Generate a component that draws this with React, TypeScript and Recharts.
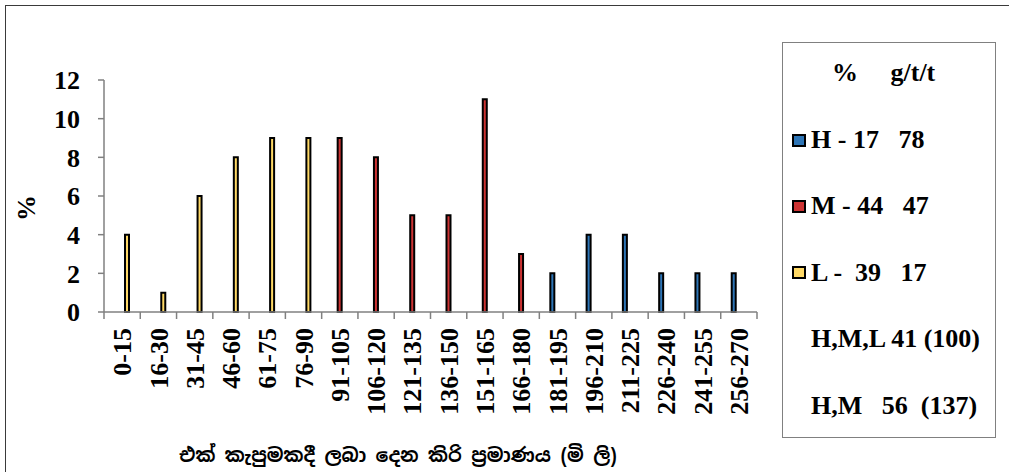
import React from "react";
import { BarChart, Bar, XAxis, YAxis, Label } from "recharts";

const categories = [
  "0-15", "16-30", "31-45", "46-60", "61-75", "76-90",
  "91-105", "106-120", "121-135", "136-150", "151-165", "166-180",
  "181-195", "196-210", "211-225", "226-240", "241-255", "256-270",
];

const hValues = [null, null, null, null, null, null, null, null, null, null, null, null, 2, 4, 4, 2, 2, 2];
const mValues = [null, null, null, null, null, null, 9, 8, 5, 5, 11, 3, null, null, null, null, null, null];
const lValues = [4, 1, 6, 8, 9, 9, null, null, null, null, null, null, null, null, null, null, null, null];

const seriesKeys = ["H", "M", "L"];
const seriesNames = ["H - 17   78", "M - 44   47", "L -  39   17"];
const seriesColors = ["#2E75B6", "#CC3333", "#FFD966"];
const legendHeader = "%     g/t/t";
const legendNotes = ["H,M,L 41 (100)", "H,M   56  (137)"];

const yTicks = [0, 2, 4, 6, 8, 10, 12];
const xTitle = "එක් කැපුමකදී ලබා දෙන කිරි ප්‍රමාණය (මි ලි)";
const yTitle = "%";

const data = categories.map((range, i) => ({
  range,
  H: hValues[i],
  M: mValues[i],
  L: lValues[i],
}));

const FONT = "'Liberation Serif', 'Times New Roman', serif";
const AXIS_GRAY = "#808080";

function XTick(props: any) {
  const { x, y, payload, index } = props;
  const half = payload.offset || 0;
  return (
    <g>
      <line x1={x - half} y1={y} x2={x - half} y2={y + 7} stroke={AXIS_GRAY} strokeWidth={1.5} />
      {index === categories.length - 1 && (
        <line x1={x + half} y1={y} x2={x + half} y2={y + 7} stroke={AXIS_GRAY} strokeWidth={1.5} />
      )}
      <text
        transform={`translate(${x},${y + 16}) rotate(-90)`}
        textAnchor="end"
        dy="0.35em"
        fontFamily={FONT}
        fontWeight="bold"
        fontSize={26}
        fill="#000"
      >
        {payload.value}
      </text>
    </g>
  );
}

function LegendBox() {
  const rowTop = (i: number) => 84 + i * 66.4;
  return (
    <div
      style={{
        position: "absolute", left: 782, top: 42, width: 214, height: 396,
        border: "1.5px solid #808080", boxSizing: "border-box", background: "#fff",
        fontFamily: FONT, fontWeight: "bold", fontSize: 26, lineHeight: "26px",
        color: "#000", whiteSpace: "pre",
      }}
    >
      <div style={{ position: "absolute", left: 49, top: 17 }}>{legendHeader}</div>
      {seriesNames.map((name, i) => (
        <React.Fragment key={name}>
          <div
            style={{
              position: "absolute", left: 8.5, top: rowTop(i) + 6.5,
              width: 10, height: 9, boxSizing: "content-box",
              background: seriesColors[i], border: "2px solid #000",
            }}
          />
          <div style={{ position: "absolute", left: 28, top: rowTop(i) }}>{name}</div>
        </React.Fragment>
      ))}
      {legendNotes.map((t, i) => (
        <div key={t} style={{ position: "absolute", left: 28, top: rowTop(seriesNames.length + i) }}>{t}</div>
      ))}
    </div>
  );
}

export default function App() {
  return (
    <div style={{ position: "absolute", left: 0, top: 0, width: 1009, height: 472, overflow: "hidden", background: "#fff" }}>
      <div style={{ position: "absolute", left: 5, top: 5, width: 1100, height: 600, borderLeft: "1.5px solid #3a3a3a", borderTop: "1.5px solid #3a3a3a" }} />
      <div style={{ position: "absolute", left: 0, top: 0 }}>
        <BarChart
          width={1009}
          height={472}
          data={data}
          margin={{ top: 80, right: 252, left: 44, bottom: 60 }}
          barSize={4}
          barGap={1}
        >
          <XAxis
            dataKey="range"
            interval={0}
            height={100}
            tickLine={false}
            tickSize={0}
            tickMargin={0}
            stroke={AXIS_GRAY}
            strokeWidth={1.5}
            tick={<XTick />}
          >
            <Label
              content={() => (
                <text x={398} y={462} textAnchor="middle" fontFamily="'Noto Sans Sinhala', 'Iskoola Pota', sans-serif" fontWeight="bold" fontSize={19} fill="#000">
                  {xTitle}
                </text>
              )}
            />
          </XAxis>
          <YAxis
            domain={[0, 12]}
            ticks={yTicks}
            width={60}
            tickSize={6}
            tickMargin={18}
            stroke={AXIS_GRAY}
            strokeWidth={1.5}
            tick={{ fontFamily: FONT, fontWeight: "bold", fontSize: 26, fill: "#000" }}
          >
            <Label
              content={() => (
                <text transform="translate(26,208) rotate(-90)" textAnchor="middle" dy="0.35em" fontFamily={FONT} fontWeight="bold" fontSize={26} fill="#000">
                  {yTitle}
                </text>
              )}
            />
          </YAxis>
          {seriesKeys.map((k, i) => (
            <Bar key={k} dataKey={k} name={seriesNames[i]} fill={seriesColors[i]} stroke="#000" strokeWidth={2} isAnimationActive={false} />
          ))}
        </BarChart>
      </div>
      <LegendBox />
    </div>
  );
}
